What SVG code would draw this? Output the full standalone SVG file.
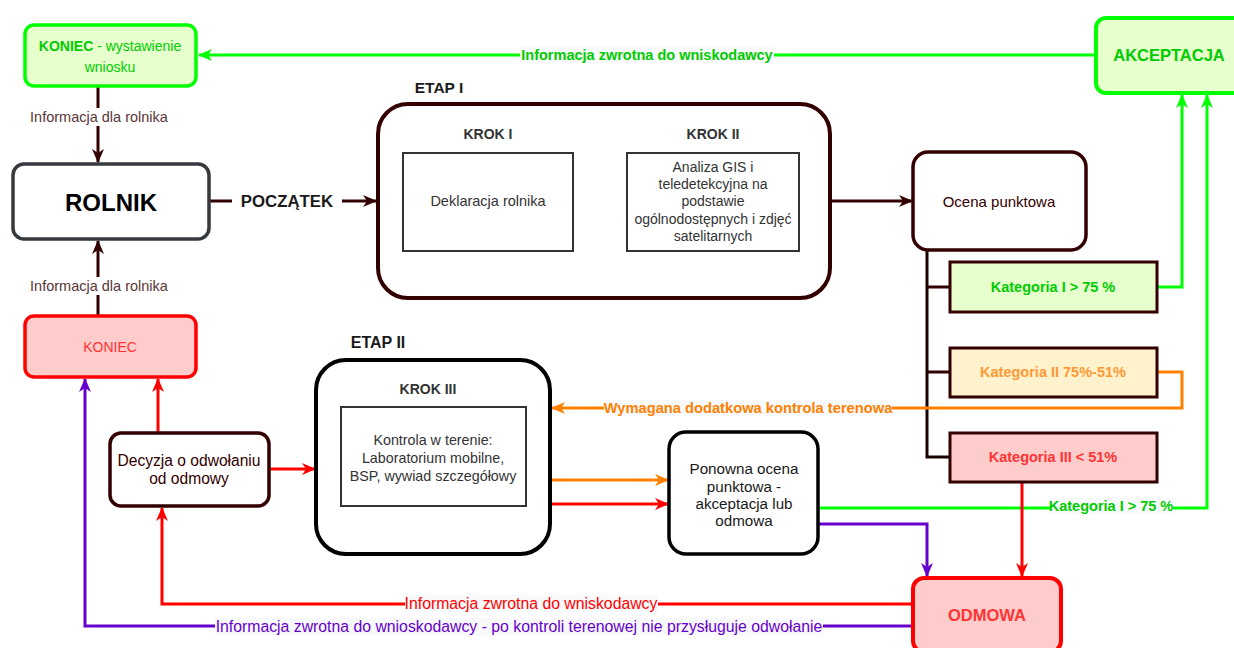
<svg xmlns="http://www.w3.org/2000/svg" width="1234" height="648" viewBox="0 0 1234 648">
<defs>
<style>
text{font-family:"Liberation Sans",Arial,sans-serif;text-anchor:middle;dominant-baseline:central}
.b{font-weight:bold}
.ln{fill:none;stroke-width:3}
.lbg{fill:#f8f9fa}
</style>
<marker id="aBrown" markerUnits="userSpaceOnUse" markerWidth="14" markerHeight="12" refX="13" refY="6" orient="auto"><path d="M0,0 L14,6 L0,12 L4,6 Z" fill="#330000"/></marker>
<marker id="aGreen" markerUnits="userSpaceOnUse" markerWidth="14" markerHeight="12" refX="13" refY="6" orient="auto"><path d="M0,0 L14,6 L0,12 L4,6 Z" fill="#00FF00"/></marker>
<marker id="aOrange" markerUnits="userSpaceOnUse" markerWidth="14" markerHeight="12" refX="13" refY="6" orient="auto"><path d="M0,0 L14,6 L0,12 L4,6 Z" fill="#FF8000"/></marker>
<marker id="aRed" markerUnits="userSpaceOnUse" markerWidth="14" markerHeight="12" refX="13" refY="6" orient="auto"><path d="M0,0 L14,6 L0,12 L4,6 Z" fill="#FF0000"/></marker>
<marker id="aPurple" markerUnits="userSpaceOnUse" markerWidth="14" markerHeight="12" refX="13" refY="6" orient="auto"><path d="M0,0 L14,6 L0,12 L4,6 Z" fill="#6600CC"/></marker>
<marker id="aBlack" markerUnits="userSpaceOnUse" markerWidth="8" markerHeight="7" refX="8" refY="3.5" orient="auto"><path d="M0,0 L8,3.5 L0,7 L2,3.5 Z" fill="#000"/></marker>
</defs>
<rect width="1234" height="648" fill="#fff"/>

<g id="connectors">
<path class="ln" d="M1096,55 H199" stroke="#00FF00" marker-end="url(#aGreen)"/>
<path class="ln" d="M98,87 V162" stroke="#330000" marker-end="url(#aBrown)"/>
<path class="ln" d="M98,316 V241" stroke="#330000" marker-end="url(#aBrown)"/>
<path class="ln" d="M209,201 H376" stroke="#330000" marker-end="url(#aBrown)"/>
<path d="M573,201 H626" fill="none" stroke="#000" stroke-width="1" marker-end="url(#aBlack)"/>
<path class="ln" d="M830,201 H912" stroke="#330000" marker-end="url(#aBrown)"/>
<path class="ln" d="M927,250 V457 H950" stroke="#1a0000"/>
<path class="ln" d="M927,287 H950 M927,372 H950" stroke="#330000"/>
<path class="ln" d="M1157,287 H1182 V95" stroke="#00FF00" marker-end="url(#aGreen)"/>
<path class="ln" d="M818,508 H1207 V95" stroke="#00FF00" marker-end="url(#aGreen)"/>
<path class="ln" d="M1157,372 H1182 V408 H552" stroke="#FF8000" marker-end="url(#aOrange)"/>
<path class="ln" d="M1022,482 V576" stroke="#FF0000" marker-end="url(#aRed)"/>
<path class="ln" d="M818,524 H927 V576" stroke="#6600CC" marker-end="url(#aPurple)"/>
<path class="ln" d="M550,480 H668" stroke="#FF8000" marker-end="url(#aOrange)"/>
<path class="ln" d="M550,504 H668" stroke="#FF0000" marker-end="url(#aRed)"/>
<path class="ln" d="M269,469 H315" stroke="#FF0000" marker-end="url(#aRed)"/>
<path class="ln" d="M158,433 V379" stroke="#FF0000" marker-end="url(#aRed)"/>
<path class="ln" d="M912,604 H162 V508" stroke="#FF0000" marker-end="url(#aRed)"/>
<path class="ln" d="M912,626 H85 V379" stroke="#6600CC" marker-end="url(#aPurple)"/>

<rect class="lbg" x="520" y="47" width="254" height="16"/>
<text x="647" y="55" class="b" font-size="14.5" fill="#00CC00">Informacja zwrotna do wniskodawcy</text>
<rect x="28" y="108" width="142" height="18" fill="#fff"/>
<text x="99" y="117" font-size="14.5" fill="#5a3636">Informacja dla rolnika</text>
<rect x="28" y="277" width="142" height="18" fill="#fff"/>
<text x="99" y="286" font-size="14.5" fill="#5a3636">Informacja dla rolnika</text>
<rect x="232" y="192" width="110" height="18" fill="#fff"/>
<text x="287" y="201" class="b" font-size="16.8" fill="#1a1a1a">POCZĄTEK</text>
<rect class="lbg" x="604" y="400" width="288" height="16"/>
<text x="748" y="408" class="b" font-size="14.7" fill="#FF8000">Wymagana dodatkowa kontrola terenowa</text>
<rect class="lbg" x="1050" y="498" width="123" height="16"/>
<text x="1111" y="506" class="b" font-size="14.5" fill="#00CC00">Kategoria I &gt; 75 %</text>
<rect class="lbg" x="405" y="595" width="253" height="17"/>
<text x="531" y="603" font-size="15.8" fill="#FF0000">Informacja zwrotna do wniskodawcy</text>
<rect class="lbg" x="215" y="618" width="608" height="17"/>
<text x="519" y="626" font-size="15.8" fill="#6600CC">Informacja zwrotna do wnioskodawcy - po kontroli terenowej nie przysługuje odwołanie</text>
</g>

<g id="koniec-wniosek">
<rect x="25" y="25" width="171" height="61" rx="9" fill="#E6FFCC" stroke="#00FF00" stroke-width="3.5"/>
<text x="110" y="46" font-size="14" fill="#00CC00"><tspan class="b">KONIEC</tspan> - wystawienie</text>
<text x="110" y="67" font-size="14" fill="#00CC00">wniosku</text>
</g>

<g id="rolnik">
<rect x="13" y="164" width="196" height="75" rx="11" fill="#fff" stroke="#36393D" stroke-width="3.5"/>
<text x="111" y="202" class="b" font-size="24" fill="#000">ROLNIK</text>
</g>

<g id="koniec">
<rect x="25" y="316" width="171" height="61" rx="9" fill="#FFCCCC" stroke="#FF0000" stroke-width="3.5"/>
<text x="110" y="347" font-size="14" fill="#FF3333">KONIEC</text>
</g>

<g id="akceptacja">
<rect x="1096" y="18" width="148" height="75" rx="10" fill="#E6FFCC" stroke="#00FF00" stroke-width="4"/>
<text x="1169" y="55" class="b" font-size="16.5" fill="#00CC00">AKCEPTACJA</text>
</g>

<g id="etap1">
<text x="439" y="87" class="b" font-size="15.5" fill="#1a1a1a">ETAP I</text>
<rect x="378" y="104" width="452" height="194" rx="30" fill="#fff" stroke="#330000" stroke-width="4"/>
<text x="488" y="134" class="b" font-size="14" fill="#333">KROK I</text>
<text x="713" y="134" class="b" font-size="14" fill="#333">KROK II</text>
</g>

<g id="krok1">
<rect x="403" y="153" width="170" height="98" fill="#fff" stroke="#333" stroke-width="2"/>
<text x="488" y="201" font-size="14.5" fill="#333">Deklaracja rolnika</text>
</g>

<g id="krok2">
<rect x="627" y="153" width="172" height="98" fill="#fff" stroke="#333" stroke-width="2"/>
<text x="713" y="167" font-size="14" fill="#333">Analiza GIS i</text>
<text x="713" y="184" font-size="14" fill="#333">teledetekcyjna na</text>
<text x="713" y="201" font-size="14" fill="#333">podstawie</text>
<text x="713" y="219" font-size="14" fill="#333">ogólnodostępnych i zdjęć</text>
<text x="713" y="236" font-size="14" fill="#333">satelitarnych</text>
</g>

<g id="ocena">
<rect x="913" y="152" width="173" height="98" rx="15" fill="#fff" stroke="#330000" stroke-width="3.5"/>
<text x="999" y="201" font-size="15" fill="#330000">Ocena punktowa</text>
</g>

<g id="kat1">
<rect x="950" y="262" width="207" height="50" fill="#E6FFCC" stroke="#330000" stroke-width="3"/>
<text x="1053" y="287" class="b" font-size="14.5" fill="#00CC00">Kategoria I &gt; 75 %</text>
</g>

<g id="kat2">
<rect x="950" y="348" width="207" height="49" fill="#FFF2CC" stroke="#330000" stroke-width="3"/>
<text x="1053" y="372" class="b" font-size="14.5" fill="#FF9933">Kategoria II 75%-51%</text>
</g>

<g id="kat3">
<rect x="950" y="433" width="207" height="49" fill="#FFCCCC" stroke="#330000" stroke-width="3"/>
<text x="1053" y="457" class="b" font-size="14.5" fill="#FF3333">Kategoria III &lt; 51%</text>
</g>

<g id="etap2">
<text x="378" y="342" class="b" font-size="16" fill="#1a1a1a">ETAP II</text>
<rect x="316" y="360" width="234" height="194" rx="30" fill="#fff" stroke="#000" stroke-width="4"/>
<text x="428" y="389" class="b" font-size="14" fill="#333">KROK III</text>
</g>

<g id="krok3">
<rect x="341" y="407" width="185" height="99" fill="#fff" stroke="#333" stroke-width="2"/>
<text x="433" y="440" font-size="14.3" fill="#333">Kontrola w terenie:</text>
<text x="433" y="458" font-size="14.3" fill="#333">Laboratorium mobilne,</text>
<text x="433" y="476" font-size="14.3" fill="#333">BSP, wywiad szczegółowy</text>
</g>

<g id="decyzja">
<rect x="110" y="433" width="159" height="73" rx="11" fill="#fff" stroke="#330000" stroke-width="3.5"/>
<text x="189" y="460" font-size="15.6" fill="#330000">Decyzja o odwołaniu</text>
<text x="189" y="478" font-size="15.6" fill="#330000">od odmowy</text>
</g>

<g id="ponowna">
<rect x="669" y="432" width="149" height="122" rx="17" fill="#fff" stroke="#000" stroke-width="3.5"/>
<text x="744" y="468" font-size="15.2" fill="#1a1a1a">Ponowna ocena</text>
<text x="744" y="486" font-size="15.2" fill="#1a1a1a">punktowa -</text>
<text x="744" y="503" font-size="15.2" fill="#1a1a1a">akceptacja lub</text>
<text x="744" y="520" font-size="15.2" fill="#1a1a1a">odmowa</text>
</g>

<g id="odmowa">
<rect x="913" y="578" width="148" height="74" rx="11" fill="#FFCCCC" stroke="#FF0000" stroke-width="4"/>
<text x="987" y="615" class="b" font-size="16.5" fill="#FF3333">ODMOWA</text>
</g>
</svg>
